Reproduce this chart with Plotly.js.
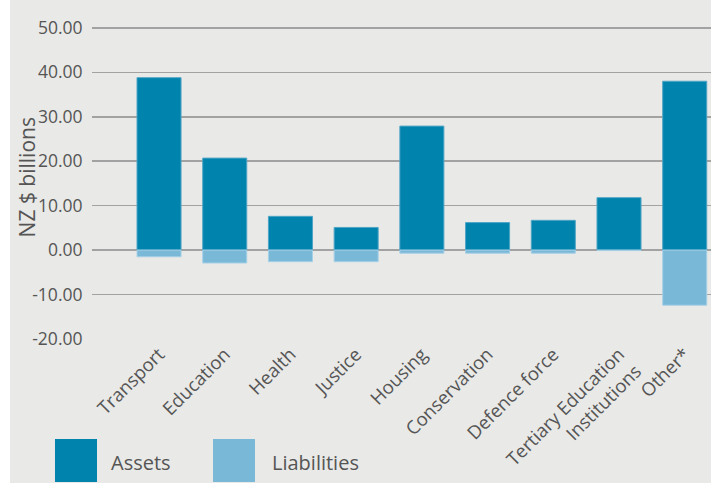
<!DOCTYPE html>
<html>
<head>
<meta charset="utf-8">
<script src="https://cdn.plot.ly/plotly-3.0.1.min.js"></script>
<style>html,body{margin:0;padding:0;background:#fff;}#chart{width:711px;height:485px;}</style>
</head>
<body>
<div id="chart"></div>
<script>
var categories = ["Transport", "Education", "Health", "Justice", "Housing", "Conservation", "Defence force", "Tertiary Education<br>Institutions", "Other*"];
var assets = [38.8, 20.7, 7.6, 5.1, 27.9, 6.2, 6.7, 11.8, 38.0];
var liabilities = [-1.5, -2.9, -2.6, -2.6, -0.7, -0.7, -0.7, -0.1, -12.4];
var seriesNames = ["Assets", "Liabilities"];
var tickVals = [-20, -10, 0, 10, 20, 30, 40, 50];
var tickText = ["-20.00", "-10.00", "0.00", "10.00", "20.00", "30.00", "40.00", "50.00"];
var yTitle = "NZ $ billions";

var assetColor = "#0083ad";
var liabColor = "#7ab8d8";
var textColor = "#555555";
var fontFam = "'Open Sans', 'Liberation Sans', sans-serif";

var traces = [
  {type: "bar", name: seriesNames[0], x: categories, y: assets,
   marker: {color: assetColor, line: {color: "#4fa5c6", width: 1}}},
  {type: "bar", name: seriesNames[1], x: categories, y: liabilities,
   marker: {color: liabColor, line: {color: "#a6d0e6", width: 1}}}
];

var layout = {
  width: 711, height: 485,
  margin: {l: 92, r: 0, t: 19, b: 146},
  paper_bgcolor: "#ffffff",
  plot_bgcolor: "rgba(0,0,0,0)",
  barmode: "relative",
  bargap: 0.33,
  showlegend: false,
  font: {family: fontFam, color: textColor, size: 17},
  xaxis: {
    type: "category",
    range: [-1.02, 8.4],
    tickangle: -45,
    showgrid: false, zeroline: false, showline: false,
    ticks: "",
    tickfont: {size: 18.5, color: textColor}
  },
  yaxis: {
    range: [-20, 52],
    tickvals: tickVals, ticktext: tickText,
    showgrid: true, gridcolor: "#a2a2a2", gridwidth: 1.5,
    zeroline: false, showline: false,
    ticks: "outside", ticklen: 5, tickcolor: "rgba(0,0,0,0)",
    tickfont: {size: 17.5, color: textColor}
  },
  shapes: [
    {type: "rect", xref: "paper", yref: "paper", x0: -0.1325, x1: 1.01, y0: -0.45, y1: 1.07,
     fillcolor: "#e9e9e7", line: {width: 0}, layer: "below"},
    {type: "rect", xref: "paper", yref: "paper", x0: -0.0598, x1: 0.0081, y0: -0.4469, y1: -0.3125,
     fillcolor: assetColor, line: {width: 0}},
    {type: "rect", xref: "paper", yref: "paper", x0: 0.1955, x1: 0.2633, y0: -0.4469, y1: -0.3125,
     fillcolor: liabColor, line: {width: 0}}
  ],
  annotations: [
    {xref: "paper", yref: "paper", x: -0.105, y: 0.505, xanchor: "center", yanchor: "middle",
     textangle: -90, text: yTitle, showarrow: false, font: {size: 21, color: textColor}},
    {xref: "paper", yref: "paper", x: 0.0275, y: -0.385, xanchor: "left", yanchor: "middle",
     text: seriesNames[0], showarrow: false, font: {size: 20, color: textColor}},
    {xref: "paper", yref: "paper", x: 0.2875, y: -0.385, xanchor: "left", yanchor: "middle",
     text: seriesNames[1], showarrow: false, font: {size: 20, color: textColor}}
  ]
};

Plotly.newPlot("chart", traces, layout, {displayModeBar: false, staticPlot: true});
</script>
</body>
</html>
